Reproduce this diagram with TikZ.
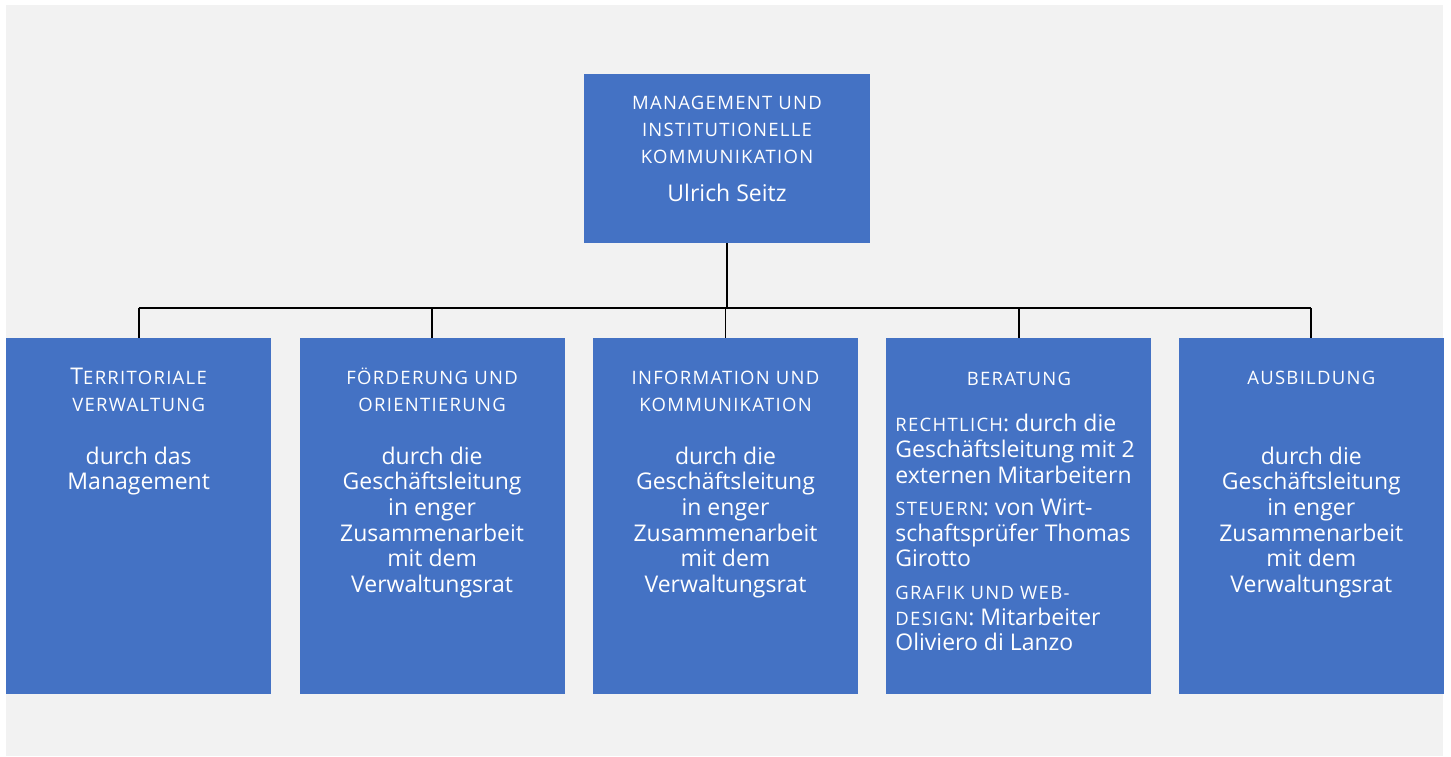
\documentclass[tikz,border=0pt]{standalone}
\usepackage{fontspec}
\setmainfont{Open Sans}
\usetikzlibrary{positioning}
\definecolor{unitblue}{HTML}{4472C4}
\definecolor{sheet}{HTML}{F2F2F2}
\newcommand{\Body}{\fontsize{23}{25.6}\selectfont}
\newcommand{\Head}{\fontsize{23}{27}\selectfont}
\newcommand{\Kap}[1]{{\fontsize{18.5}{27}\selectfont\addfontfeatures{LetterSpace=7}\MakeUppercase{#1}}}% small caps by hand
\newcommand{\Lead}[1]{\rule{0pt}{#1}\ignorespaces}% first baseline below the top edge

\begin{document}
\begin{tikzpicture}[x=1pt,y=-1pt,% pixel grid, y runs downwards
			every node/.style={
				inner sep=0pt,		% the parbox gives the size
				text=white
			},
			unit/.style={fill=unitblue},
			every edge/.style={draw,line width=1.8pt}
		]
		\useasboundingbox (0,0) rectangle (1451,756);
		\fill[sheet] (6,5) rectangle (1443,756);
		% head of the organisation
		\node[unit](top) at (727,158.5){\parbox[t][169pt][t]{286pt}{\centering
			\Head\Lead{35pt}\Kap{management und}\\ \Kap{institutionelle}\\ \Kap{kommunikation}\par
			\vspace{13pt}\Body Ulrich Seitz\par}};
		% the five departments
		\node[unit,anchor=north west](t1) at (6,338){\parbox[t][356pt][t]{265pt}{\centering
			\Head\Lead{46pt}T\Kap{erritoriale}\\ \Kap{verwaltung}\par
			\vspace{27.4pt}\Body durch das\\ Management\par}};
		\node[unit](t2)[right=28pt of t1]{\parbox[t][356pt][t]{265pt}{\centering
			\Head\Lead{46pt}\Kap{förderung und}\\ \Kap{orientierung}\par
			\vspace{27.4pt}\Body durch die\\ Geschäftsleitung\\ in enger\\ Zusammenarbeit\\ mit dem\\ Verwaltungsrat\par}};
		\node[unit](t3)[right=28pt of t2]{\parbox[t][356pt][t]{265pt}{\centering
			\Head\Lead{46pt}\Kap{information und}\\ \Kap{kommunikation}\par
			\vspace{27.4pt}\Body durch die\\ Geschäftsleitung\\ in enger\\ Zusammenarbeit\\ mit dem\\ Verwaltungsrat\par}};
		\node[unit](t4)[right=28pt of t3]{\parbox[t][356pt][t]{265pt}{\centering
			\Head\Lead{47pt}\Kap{beratung}\par
			\vspace{21pt}\raggedright\leftskip=9pt\Body
			\Kap{rechtlich}: durch die\\ Geschäftsleitung mit 2\\ externen Mitarbeitern\par
			\vspace{7pt}\Kap{steuern}: von Wirt-\\ schaftsprüfer Thomas\\ Girotto\par
			\vspace{7pt}\Kap{grafik und web-}\\ \Kap{design}: Mitarbeiter\\ Oliviero di Lanzo\par}};
		\node[unit](t5)[right=27pt of t4]{\parbox[t][356pt][t]{265pt}{\centering
			\Head\Lead{46pt}\Kap{ausbildung}\par
			\vspace{54.4pt}\Body durch die\\ Geschäftsleitung\\ in enger\\ Zusammenarbeit\\ mit dem\\ Verwaltungsrat\par}};
		\coordinate (bus) at (0,308);
		\path
		(top.south)edge []	(top.south |- bus)
		(t1.north |- bus)edge []	(t5.north |- bus)
		;
		\foreach \n in {t1,t2,t3,t4,t5}
			\path (\n.north |- bus)edge [] (\n.north);
	\end{tikzpicture}
\end{document}
